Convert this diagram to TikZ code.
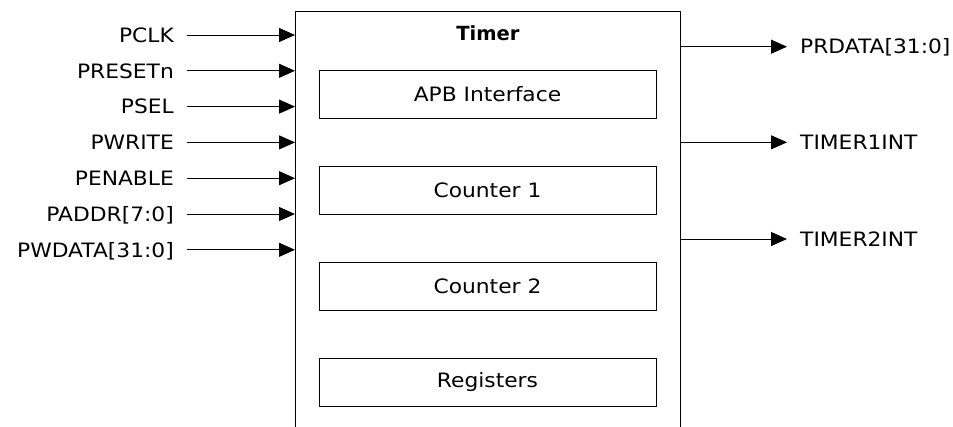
\documentclass[tikz,border=0pt]{standalone}
\usepackage{fontspec}
\setmainfont{DejaVu Sans}
\newfontfamily\sigfont{DejaVu Sans}[FakeStretch=1.1]
\usetikzlibrary{arrows.meta}
\begin{document}
\begin{tikzpicture}[x=1pt,y=-1pt,
  sig/.style={font=\sigfont\fontsize{19.8}{22}\selectfont, text height=14.4pt, text depth=0pt, inner ysep=0pt, inner xsep=13pt},
  blk/.style={draw, line width=1pt, minimum width=337pt, minimum height=48pt, font=\sigfont\fontsize{19.8}{22}\selectfont},
  wire/.style={line width=1pt, -{Triangle[length=16pt,width=14pt]}}]
\useasboundingbox (0,0) rectangle (953,426);
% main box (open at the bottom)
\coordinate (tl) at (295,11);
\coordinate (tr) at (680,11);
\draw[line width=1pt] (295,430) -- (tl) -- (tr) -- (680,430);
\node[font=\fontsize{19.5}{22}\selectfont\bfseries] (title) at (488,33) {Timer};
% inner blocks
\node[blk] (apb) at (487.5,94.5) {APB Interface};
\node[blk] (c1) at (487.5,190) {Counter 1};
\node[blk] (c2) at (487.5,286.5) {Counter 2};
\node[blk] (reg) at (487.5,382.5) {Registers};
% inputs
\foreach \n/\t/\y in {i1/PCLK/35, i2/PRESETn/70.8, i3/PSEL/106.6, i4/PWRITE/142.4, i5/PENABLE/178.2, i6/{PADDR[7:0]}/214, i7/{PWDATA[31:0]}/249.8}{
  \node[sig, anchor=east] (\n) at (187,\y) {\t};
  \draw[wire] (\n.east) -- (\n.east -| tl);
}
% outputs
\foreach \n/\t/\y in {o1/{PRDATA[31:0]}/46.7, o2/TIMER1INT/142.3, o3/TIMER2INT/239}{
  \node[sig, anchor=west] (\n) at (787,\y) {\t};
  \draw[wire] (\n.west -| tr) -- (\n.west);
}
\end{tikzpicture}
\end{document}
